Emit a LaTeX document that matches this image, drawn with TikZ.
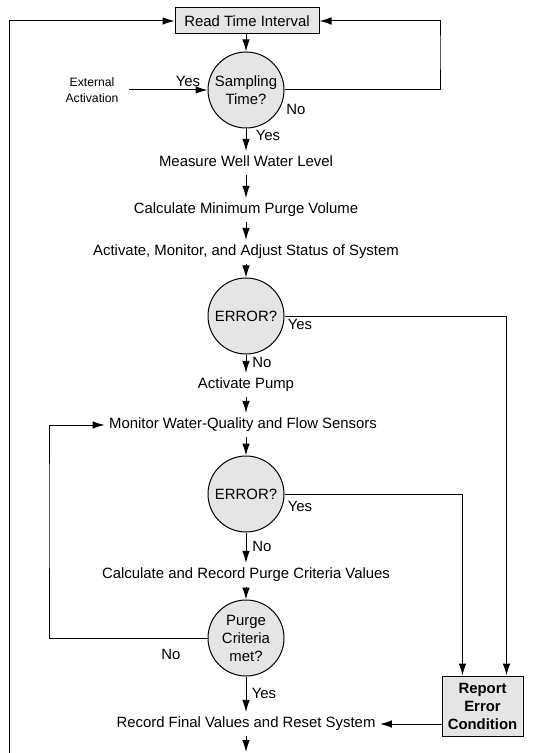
\documentclass[tikz,border=0pt]{standalone}
\usepackage{fontspec}
\setmainfont{Liberation Sans}
\usetikzlibrary{arrows.meta}
\begin{document}
\begin{tikzpicture}[x=0.5pt,y=-0.5pt,line width=0.5pt,
  font=\fontsize{7.45}{9}\selectfont,
  arr/.style={-{Latex[length=6pt,width=3.8pt]}},
  txt/.style={inner sep=2pt,text height=5.6pt,text depth=2pt},
  lbl/.style={inner sep=0pt},
  dec/.style={circle,draw,fill=gray!20,minimum size=38pt,inner sep=0pt,align=center},
  box/.style={rectangle,draw,fill=gray!20}]
\useasboundingbox (0,0) rectangle (533,753);
% top of the loop
\node[box,minimum width=72pt,minimum height=13pt,inner sep=0pt] (read) at (247,21) {Read Time Interval};
\node[dec] (samp) at (246,90) {Sampling\\Time?};
\node[align=center,inner xsep=5pt,font=\fontsize{6.1}{7.8}\selectfont] (ext) at (92,90) {External\\Activation};
\node[txt] (measure) at (246,163) {Measure Well Water Level};
\node[txt] (calcmin) at (246,210) {Calculate Minimum Purge Volume};
\node[txt] (adjust) at (246,252) {Activate, Monitor, and Adjust Status of System};
\node[dec] (err1) at (246,316) {ERROR?};
\node[txt] (pump) at (246,385) {Activate Pump};
\node[txt] (monitor) at (243,425) {Monitor Water-Quality and Flow Sensors};
\node[dec] (err2) at (246,494) {ERROR?};
\node[txt] (calcrec) at (246,575) {Calculate and Record Purge Criteria Values};
\node[dec,inner sep=-3pt] (purge) at (246,638) {Purge\\Criteria\\met?};
\node[txt] (record) at (246,724) {Record Final Values and Reset System};
\node[box,minimum width=40.5pt,minimum height=30pt,align=center,inner sep=0pt,
  font=\fontsize{7.45}{9}\selectfont\bfseries] (report) at (482.5,706) {Report\\Error\\Condition};
% branch labels
\node[lbl] (yext) at (188,81) {Yes};
\node[lbl] (nsamp) at (296,109) {No};
\node[lbl] (ysamp) at (268,135) {Yes};
\node[lbl] (yerr1) at (300,324) {Yes};
\node[lbl] (nerr1) at (262,362) {No};
\node[lbl] (yerr2) at (300,506) {Yes};
\node[lbl] (nerr2) at (262,546) {No};
\node[lbl] (npurge) at (171,654) {No};
\node[lbl] (ypurge) at (264,693) {Yes};
% bends and free ends
\coordinate (rloop) at (440,50);
\coordinate (lloop) at (49,500);
\coordinate (lbot) at (9,753);
\coordinate (bottom) at (246,752);
% connectors
\draw[arr] (read.south -| samp.north) -- (samp.north);
\draw[arr] (samp.east) -| (rloop) |- (read.east);
\draw[arr] (ext.east) -- (samp.west);
\draw[arr] (samp) -- (measure);
\draw[arr] (measure) -- (calcmin);
\draw[arr] (calcmin) -- (adjust);
\draw[arr] (adjust) -- (err1);
\draw[arr] (err1.east) -| ([xshift=-8.5pt]report.north east);
\draw[arr] (err1) -- (pump);
\draw[arr] (pump.south) -- (pump.south |- monitor.north);
\draw[arr] (monitor.south -| err2.north) -- (err2.north);
\draw[arr] (err2.east) -| ([xshift=10.5pt]report.north west);
\draw[arr] (err2) -- (calcrec);
\draw[arr] (calcrec) -- (purge);
\draw[arr] (purge.west) -| (lloop) |- (monitor.west);
\draw[arr] (purge) -- (record);
\draw[arr] (report.west |- record.east) -- (record.east);
\draw[arr] (record) -- (bottom);
\draw[arr] (lbot) |- (read.west);
\end{tikzpicture}
\end{document}
